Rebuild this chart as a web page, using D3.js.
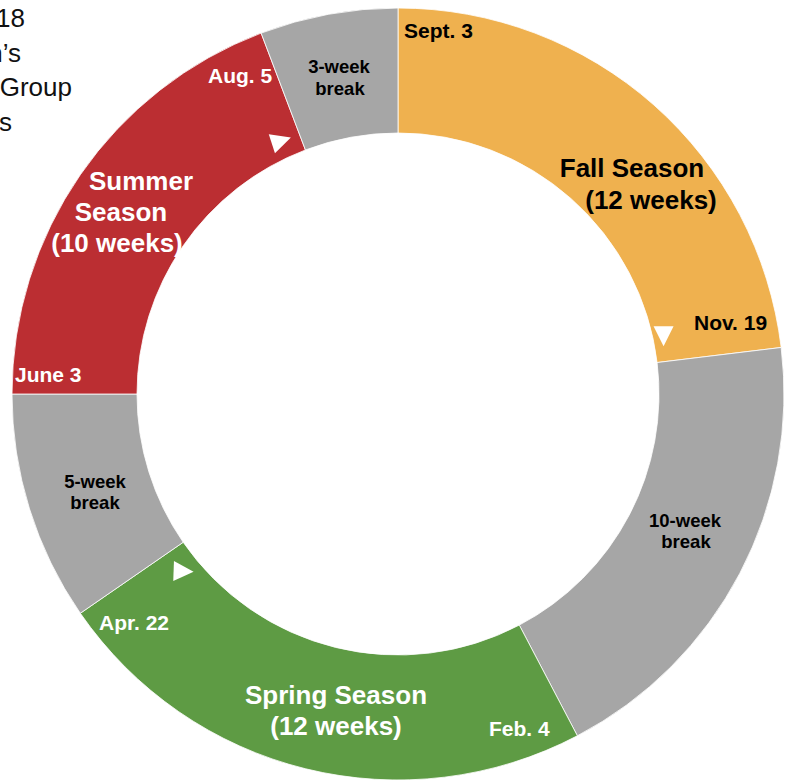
<!DOCTYPE html>
<html>
<head>
<meta charset="utf-8">
<script src="https://cdn.jsdelivr.net/npm/d3@7"></script>
<style>
  html, body { margin: 0; padding: 0; background: #fff; overflow: hidden; }
  text { font-family: "Liberation Sans", Arial, Helvetica, sans-serif; }
</style>
</head>
<body>
<div id="chart"></div>
<script>
// segments of the year, in weeks, going clockwise from the top
var segments = ['Fall Season', '10-week break', 'Spring Season', '5-week break', 'Summer Season', '3-week break'];
var weeks = [12, 10, 12, 5, 10, 3];
var kinds = ['fall', 'break', 'spring', 'break', 'summer', 'break'];

// title lines at the top left (partly off the page, as in the original)
var titleLines = ['2018', "Children\u2019s", 'Play Group', 'Classes'];

// arrows marking the direction of time (position in weeks)
var arrowWeeks = [11.2, 48.4, 33.3];

var colors = {fall: '#efb14f', spring: '#5e9b44', summer: '#bb2e32', break: '#a6a6a6'};

var width = 792, height = 781;
var cx = 398, cy = 394, outerR = 386, innerR = 261;

var svg = d3.select('#chart')
  .append('svg')
  .attr('width', width)
  .attr('height', height);

// title block
svg.append('g')
  .selectAll('text')
  .data(titleLines)
  .enter()
    .append('text')
    .attr('x', function(d, i){ return [25, 21, 72, 12][i]; })
    .attr('y', function(d, i){ return 27 + i*34.7; })
    .attr('text-anchor', 'end')
    .attr('font-size', 26)
    .attr('fill', '#111')
    .text(function(d){ return d; });

var data = segments.map(function(s, i){ return {name: s, weeks: weeks[i], kind: kinds[i]}; });

var pie = d3.pie()
  .sort(null)
  .value(function(d){ return d.weeks; })
  .startAngle(0)
  .endAngle(2*Math.PI);

var arc = d3.arc()
  .innerRadius(innerR)
  .outerRadius(outerR);

var donut = svg.append('g')
  .attr('transform', 'translate(' + cx + ',' + cy + ')');

donut.selectAll('path.slice')
  .data(pie(data))
  .enter()
    .append('path')
    .classed('slice', true)
    .attr('d', arc)
    .attr('fill', function(d){ return colors[d.data.kind]; })
    .attr('stroke', '#fff')
    .attr('stroke-width', 0.8);

// arrows
var weekScale = d3.scaleLinear().domain([0, 52]).range([0, 2*Math.PI]);
var arrowR = [272, 279, 279];
var arrowDir = [90, -18, 2];
donut.selectAll('path.arrow')
  .data(arrowWeeks)
  .enter()
    .append('path')
    .classed('arrow', true)
    .attr('d', 'M11,0 L-9,-10 L-9,10 Z')
    .attr('fill', '#fff')
    .attr('transform', function(d, i){
      var a = weekScale(d);
      var x = arrowR[i]*Math.sin(a), y = -arrowR[i]*Math.cos(a);
      return 'translate(' + x + ',' + y + ') rotate(' + arrowDir[i] + ')';
    });

// labels: [text, x, y, size, colour, anchor]
var labels = [
  ['Sept. 3', 404, 38, 21, '#000', 'start'],
  ['Fall Season', 632, 177, 26, '#000', 'middle'],
  ['(12 weeks)', 651, 209, 26, '#000', 'middle'],
  ['Nov. 19', 694, 330, 21, '#000', 'start'],
  ['10-week', 685, 527, 18.5, '#000', 'middle'],
  ['break', 686, 548, 18.5, '#000', 'middle'],
  ['Feb. 4', 489, 736, 21, '#fff', 'start'],
  ['Spring Season', 336, 704, 26, '#fff', 'middle'],
  ['(12 weeks)', 336, 735, 26, '#fff', 'middle'],
  ['Apr. 22', 99, 630, 21, '#fff', 'start'],
  ['5-week', 95, 488, 18.5, '#000', 'middle'],
  ['break', 95, 509, 18.5, '#000', 'middle'],
  ['June 3', 15, 382, 21, '#fff', 'start'],
  ['Summer', 141, 190, 26, '#fff', 'middle'],
  ['Season', 121, 221, 26, '#fff', 'middle'],
  ['(10 weeks)', 117, 252, 26, '#fff', 'middle'],
  ['Aug. 5', 208, 83, 21, '#fff', 'start'],
  ['3-week', 339, 73, 18.5, '#000', 'middle'],
  ['break', 340, 95, 18.5, '#000', 'middle']
];

svg.append('g')
  .selectAll('text')
  .data(labels)
  .enter()
    .append('text')
    .attr('x', function(d){ return d[1]; })
    .attr('y', function(d){ return d[2]; })
    .attr('font-size', function(d){ return d[3]; })
    .attr('fill', function(d){ return d[4]; })
    .attr('text-anchor', function(d){ return d[5]; })
    .attr('font-weight', 'bold')
    .text(function(d){ return d[0]; });
</script>
</body>
</html>
